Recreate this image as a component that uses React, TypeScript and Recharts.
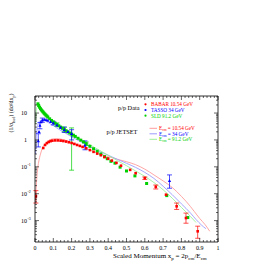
import React from 'react';
import { ComposedChart, Scatter, Line, XAxis, YAxis, ErrorBar } from 'recharts';

// ---------- data ----------
const babarXp = [0.005, 0.045, 0.055, 0.065, 0.075, 0.085, 0.095, 0.11, 0.125, 0.14, 0.155, 0.17, 0.185, 0.2, 0.215, 0.23, 0.245, 0.26, 0.28, 0.3, 0.32, 0.34, 0.36, 0.38, 0.4, 0.42, 0.445, 0.47, 0.52, 0.55, 0.6, 0.66, 0.716, 0.774, 0.825, 0.889];
const babarVal = [0.008, 0.5, 0.65, 0.76, 0.84, 0.9, 0.94, 0.96, 0.96, 0.94, 0.91, 0.87, 0.82, 0.77, 0.71, 0.65, 0.6, 0.55, 0.49, 0.42, 0.36, 0.31, 0.27, 0.23, 0.2, 0.17, 0.14, 0.11, 0.077, 0.058, 0.038, 0.018, 0.0092, 0.0034, 0.00125, 0.0004];
const babarErrXp = [0.005, 0.6, 0.66, 0.774, 0.825, 0.889];
const babarErrVal = [0.008, 0.038, 0.018, 0.0034, 0.00125, 0.0004];
const babarErrLo = [0.0045, 0.034, 0.015, 0.0026, 0.0008, 0.00022];
const babarErrHi = [0.013, 0.042, 0.021, 0.0045, 0.0019, 0.00062];

const tassoXp = [0.018, 0.022, 0.027, 0.032, 0.04, 0.05, 0.06, 0.07, 0.085, 0.1, 0.12, 0.14, 0.16, 0.18, 0.2, 0.273, 0.735];
const tassoVal = [0.9, 2.0, 3.4, 4.6, 5.4, 5.7, 5.6, 5.2, 4.7, 4.2, 3.5, 2.9, 2.4, 2.0, 1.7, 0.62, 0.03];
const tassoErrXp = [0.018, 0.027, 0.04, 0.1, 0.16, 0.2, 0.273, 0.735];
const tassoErrVal = [0.9, 3.4, 5.4, 4.2, 2.4, 1.7, 0.62, 0.03];
const tassoErrLo = [0.55, 2.6, 4.5, 3.6, 1.9, 1.0, 0.43, 0.016];
const tassoErrHi = [1.7, 4.4, 6.5, 4.9, 3.0, 2.4, 0.92, 0.05];

const sldXp = [0.016, 0.02, 0.025, 0.03, 0.035, 0.04, 0.045, 0.05, 0.055, 0.06, 0.065, 0.07, 0.08, 0.09, 0.1, 0.11, 0.12, 0.13, 0.14, 0.15, 0.16, 0.17, 0.18, 0.19, 0.2, 0.21, 0.22, 0.235, 0.25, 0.265, 0.28, 0.3, 0.32, 0.34, 0.36, 0.38, 0.395, 0.415, 0.437, 0.465, 0.5, 0.546, 0.61, 0.72, 0.835];
const sldVal = [22, 19, 16.5, 14.5, 13, 11.8, 10.8, 9.8, 9, 8.3, 7.7, 7.1, 6.1, 5.3, 4.7, 4.2, 3.75, 3.35, 3, 2.7, 2.45, 2.2, 2, 1.8, 1.65, 1.5, 1.35, 1.15, 0.98, 0.84, 0.72, 0.58, 0.47, 0.38, 0.3, 0.24, 0.2, 0.16, 0.137, 0.097, 0.07, 0.046, 0.024, 0.0085, 0.0013];
const sldErrXp = [0.12, 0.16, 0.2, 0.28];
const sldErrVal = [3.75, 2.45, 1.65, 0.72];
const sldErrLo = [3.2, 2.0, 0.075, 0.62];
const sldErrHi = [4.3, 3.0, 2.8, 0.84];

const jet10Xp = [0.003, 0.006, 0.01, 0.015, 0.02, 0.03, 0.04, 0.05, 0.065, 0.08, 0.1, 0.12, 0.14, 0.17, 0.2, 0.25, 0.3, 0.35, 0.4, 0.45, 0.5, 0.55, 0.6, 0.65, 0.7, 0.75, 0.8, 0.85, 0.87, 0.9, 0.93, 0.955];
const jet10Val = [0.006, 0.015, 0.04, 0.09, 0.15, 0.3, 0.48, 0.65, 0.85, 1.0, 1.1, 1.12, 1.08, 0.95, 0.8, 0.58, 0.42, 0.31, 0.24, 0.19, 0.155, 0.12, 0.082, 0.05, 0.03, 0.017, 0.008, 0.0033, 0.0022, 0.0012, 0.0007, 0.0004];

const jet34Xp = [0.003, 0.006, 0.01, 0.015, 0.02, 0.03, 0.04, 0.05, 0.07, 0.1, 0.13, 0.16, 0.2, 0.25, 0.3, 0.35, 0.4, 0.45, 0.5, 0.55, 0.6, 0.65, 0.7, 0.75, 0.8, 0.85, 0.88, 0.91, 0.934];
const jet34Val = [0.3, 1.0, 2.2, 3.5, 4.5, 5.3, 5.4, 5.2, 4.5, 3.4, 2.5, 1.9, 1.3, 0.85, 0.56, 0.38, 0.27, 0.19, 0.135, 0.095, 0.062, 0.037, 0.019, 0.0092, 0.0042, 0.0019, 0.0011, 0.00068, 0.0005];

const jet91Xp = [0.003, 0.006, 0.01, 0.015, 0.02, 0.03, 0.04, 0.06, 0.08, 0.1, 0.13, 0.16, 0.2, 0.25, 0.3, 0.35, 0.4, 0.45, 0.5, 0.55, 0.6, 0.65, 0.7, 0.75, 0.8, 0.85, 0.88];
const jet91Val = [4, 10, 16, 18, 17, 14, 11.5, 8.2, 6.2, 4.8, 3.4, 2.5, 1.7, 1.05, 0.66, 0.42, 0.27, 0.17, 0.11, 0.07, 0.044, 0.026, 0.014, 0.0068, 0.0031, 0.0014, 0.00085];

const xMajorTicks = [0, 0.1, 0.2, 0.3, 0.4, 0.5, 0.6, 0.7, 0.8, 0.9, 1];
const xTickLabels = ['0', '0.1', '0.2', '0.3', '0.4', '0.5', '0.6', '0.7', '0.8', '0.9', '1'];
const yMajorTicks = [0.001, 0.01, 0.1, 1, 10];
const yTickBase = ['10', '10', '10', '1', '10'];
const yTickExp = ['-3', '-2', '-1', '', ''];

const seriesLabels = ['BABAR 10.54 GeV', 'TASSO 34 GeV', 'SLD 91.2 GeV'];
const jetLabels = ['10.54 GeV', '34 GeV', '91.2 GeV'];

// ---------- helpers ----------
const RED = '#ff0000';
const BLUE = '#0000ff';
const GREEN = '#00d000';
const LRED = '#ff9c9c';
const LBLUE = '#9c9cff';
const LGREEN = '#9cf09c';
const FONT = '"Liberation Serif", "DejaVu Serif", serif';

const pts = (xs: number[], ys: number[]) => xs.map((x, i) => ({ x, y: ys[i] }));
const errPts = (xs: number[], ys: number[], lo: number[], hi: number[]) =>
  xs.map((x, i) => ({ x, y: ys[i], err: [ys[i] - lo[i], hi[i] - ys[i]] }));

const xMinor: number[] = [];
for (let i = 0; i <= 50; i++) xMinor.push(Math.round(i * 2) / 100);
const yAll: number[] = [];
for (let e = -4; e <= 1; e++) {
  for (let m = 1; m <= 9; m++) {
    const v = m * Math.pow(10, e);
    if (v >= 1.6e-4 && v <= 43) yAll.push(v);
  }
}

const isXMajor = (v: number) => Math.abs(v * 10 - Math.round(v * 10)) < 1e-6;
const isYMajor = (v: number) => Math.abs(Math.log10(v) - Math.round(Math.log10(v))) < 1e-6;

const square = (color: string, s = 2.6) => (p: any) =>
  p.cx == null ? <g /> : <rect x={p.cx - s / 2} y={p.cy - s / 2} width={s} height={s} fill={color} />;
const triangle = (color: string) => (p: any) =>
  p.cx == null ? <g /> : (
    <path d={`M${p.cx},${p.cy - 1.8}L${p.cx + 1.6},${p.cy + 1.2}L${p.cx - 1.6},${p.cy + 1.2}Z`} fill={color} />
  );
const blank = () => <g />;

const BottomTick = (p: any) => {
  const v = p.payload.value;
  const major = isXMajor(v);
  const idx = Math.round(v * 10);
  return (
    <g>
      <line x1={p.x} x2={p.x} y1={p.y} y2={p.y - (major ? 4 : 2)} stroke="#000" strokeWidth={0.6} />
      {major && (
        <text x={p.x} y={p.y + 8} textAnchor="middle" fontSize={6} fontFamily={FONT} fill="#000">
          {xTickLabels[idx]}
        </text>
      )}
    </g>
  );
};
const TopTick = (p: any) => {
  const major = isXMajor(p.payload.value);
  return <line x1={p.x} x2={p.x} y1={p.y} y2={p.y + (major ? 4 : 2)} stroke="#000" strokeWidth={0.6} />;
};
const LeftTick = (p: any) => {
  const v = p.payload.value;
  const major = isYMajor(v);
  const idx = yMajorTicks.findIndex((t) => Math.abs(Math.log10(t) - Math.log10(v)) < 1e-6);
  return (
    <g>
      <line x1={p.x} x2={p.x + (major ? 4 : 2)} y1={p.y} y2={p.y} stroke="#000" strokeWidth={0.6} />
      {major && idx >= 0 && (
        <g>
          <text x={p.x - 8} y={p.y + 2} textAnchor="end" fontSize={6} fontFamily={FONT} fill="#000">
            {yTickBase[idx]}
          </text>
          {yTickExp[idx] !== '' && (
            <text x={p.x - 7.6} y={p.y - 0.5} textAnchor="start" fontSize={4} fontFamily={FONT} fill="#000">
              {yTickExp[idx]}
            </text>
          )}
        </g>
      )}
    </g>
  );
};
const RightTick = (p: any) => {
  const major = isYMajor(p.payload.value);
  return <line x1={p.x} x2={p.x - (major ? 4 : 2)} y1={p.y} y2={p.y} stroke="#000" strokeWidth={0.6} />;
};

const axisLine = { stroke: '#000', strokeWidth: 0.8 };
const Y_DOMAIN: [number, number] = [1.6e-4, 43];

export default function App() {
  const babar = pts(babarXp, babarVal);
  const tasso = pts(tassoXp, tassoVal);
  const sld = pts(sldXp, sldVal);
  const babarErr = errPts(babarErrXp, babarErrVal, babarErrLo, babarErrHi);
  const tassoErr = errPts(tassoErrXp, tassoErrVal, tassoErrLo, tassoErrHi);
  const sldErr = errPts(sldErrXp, sldErrVal, sldErrLo, sldErrHi);
  const j10 = pts(jet10Xp, jet10Val);
  const j34 = pts(jet34Xp, jet34Val);
  const j91 = pts(jet91Xp, jet91Val);

  const dataColors = [RED, BLUE, GREEN];
  const lineColors = [LRED, LBLUE, LGREEN];

  return (
    <div style={{ position: 'absolute', left: 0, top: 0, width: 270, height: 262, background: '#fff' }}>
      <ComposedChart width={270} height={262} margin={{ top: 86, right: 42, bottom: 0, left: 15 }}>
        <XAxis
          xAxisId="b"
          dataKey="x"
          type="number"
          domain={[0, 1]}
          ticks={xMinor}
          interval={0}
          allowDataOverflow
          height={20}
          tickSize={0}
          tickMargin={0}
          tickLine={false}
          axisLine={axisLine}
          tick={BottomTick}
        />
        <XAxis
          xAxisId="t"
          orientation="top"
          dataKey="x"
          type="number"
          domain={[0, 1]}
          ticks={xMinor}
          interval={0}
          allowDataOverflow
          height={10}
          tickSize={0}
          tickMargin={0}
          tickLine={false}
          axisLine={axisLine}
          tick={TopTick}
        />
        <YAxis
          yAxisId="l"
          dataKey="y"
          type="number"
          scale="log"
          domain={Y_DOMAIN}
          ticks={yAll}
          interval={0}
          allowDataOverflow
          width={20}
          tickSize={0}
          tickMargin={0}
          tickLine={false}
          axisLine={axisLine}
          tick={LeftTick}
        />
        <YAxis
          yAxisId="r"
          orientation="right"
          dataKey="y"
          type="number"
          scale="log"
          domain={Y_DOMAIN}
          ticks={yAll}
          interval={0}
          allowDataOverflow
          width={10}
          tickSize={0}
          tickMargin={0}
          tickLine={false}
          axisLine={axisLine}
          tick={RightTick}
        />

        <Line xAxisId="b" yAxisId="l" data={j10} dataKey="y" type="monotone" dot={false} stroke={LRED} strokeWidth={0.9} isAnimationActive={false} />
        <Line xAxisId="b" yAxisId="l" data={j34} dataKey="y" type="monotone" dot={false} stroke={LBLUE} strokeWidth={0.9} isAnimationActive={false} />
        <Line xAxisId="b" yAxisId="l" data={j91} dataKey="y" type="monotone" dot={false} stroke={LGREEN} strokeWidth={0.9} isAnimationActive={false} />

        <Scatter xAxisId="b" yAxisId="l" data={sldErr} shape={blank} isAnimationActive={false}>
          <ErrorBar dataKey="err" direction="y" width={2.5} stroke={GREEN} strokeWidth={0.7} />
        </Scatter>
        <Scatter xAxisId="b" yAxisId="l" data={tassoErr} shape={blank} isAnimationActive={false}>
          <ErrorBar dataKey="err" direction="y" width={2.5} stroke={BLUE} strokeWidth={0.7} />
        </Scatter>
        <Scatter xAxisId="b" yAxisId="l" data={babarErr} shape={blank} isAnimationActive={false}>
          <ErrorBar dataKey="err" direction="y" width={2.5} stroke={RED} strokeWidth={0.7} />
        </Scatter>

        <Scatter xAxisId="b" yAxisId="l" data={sld} shape={square(GREEN, 3)} isAnimationActive={false} />
        <Scatter xAxisId="b" yAxisId="l" data={tasso} shape={triangle(BLUE)} isAnimationActive={false} />
        <Scatter xAxisId="b" yAxisId="l" data={babar} shape={square(RED, 2.6)} isAnimationActive={false} />
      </ComposedChart>

      <svg width={270} height={262} style={{ position: 'absolute', left: 0, top: 0, pointerEvents: 'none' }}>
        {/* y-axis title */}
        <text transform="translate(13,113) rotate(-90)" textAnchor="middle" fontSize={6} fontFamily={FONT} fill="#000">
          (1/σ<tspan fontSize={4} dy={1.5}>had</tspan>
          <tspan dy={-1.5}>) (dσ/dx</tspan>
          <tspan fontSize={4} dy={1.5}>p</tspan>
          <tspan dy={-1.5}>)</tspan>
        </text>
        {/* x-axis title */}
        <text x={113} y={258} fontSize={7} fontFamily={FONT} fill="#000">
          Scaled Momentum x<tspan fontSize={5} dy={1.5}>p</tspan>
          <tspan dy={-1.5}> = 2p</tspan>
          <tspan fontSize={5} dy={1.5}>cm</tspan>
          <tspan dy={-1.5}>/E</tspan>
          <tspan fontSize={5} dy={1.5}>cm</tspan>
        </text>

        {/* data legend */}
        <text x={118} y={110} fontSize={6.3} fontFamily={FONT} fill="#000">p/p Data</text>
        {seriesLabels.map((s, i) => (
          <g key={s}>
            <circle cx={145.5} cy={104.3 + i * 5.7} r={1.1} fill={dataColors[i]} />
            <text x={151} y={106.1 + i * 5.7} fontSize={5.2} fontFamily={FONT} fill={dataColors[i]}>{s}</text>
          </g>
        ))}

        {/* JETSET legend */}
        <text x={106.5} y={133.8} fontSize={6.3} fontFamily={FONT} fill="#000">p/p JETSET</text>
        {jetLabels.map((s, i) => (
          <g key={s}>
            <line x1={149.5} x2={157} y1={128.3 + i * 5.5} y2={128.3 + i * 5.5} stroke={lineColors[i]} strokeWidth={1} />
            <text x={159} y={130 + i * 5.5} fontSize={5.2} fontFamily={FONT} fill={dataColors[i]}>
              E<tspan fontSize={3.6} dy={1}>cm</tspan>
              <tspan dy={-1}> = {s}</tspan>
            </text>
          </g>
        ))}
      </svg>
    </div>
  );
}
